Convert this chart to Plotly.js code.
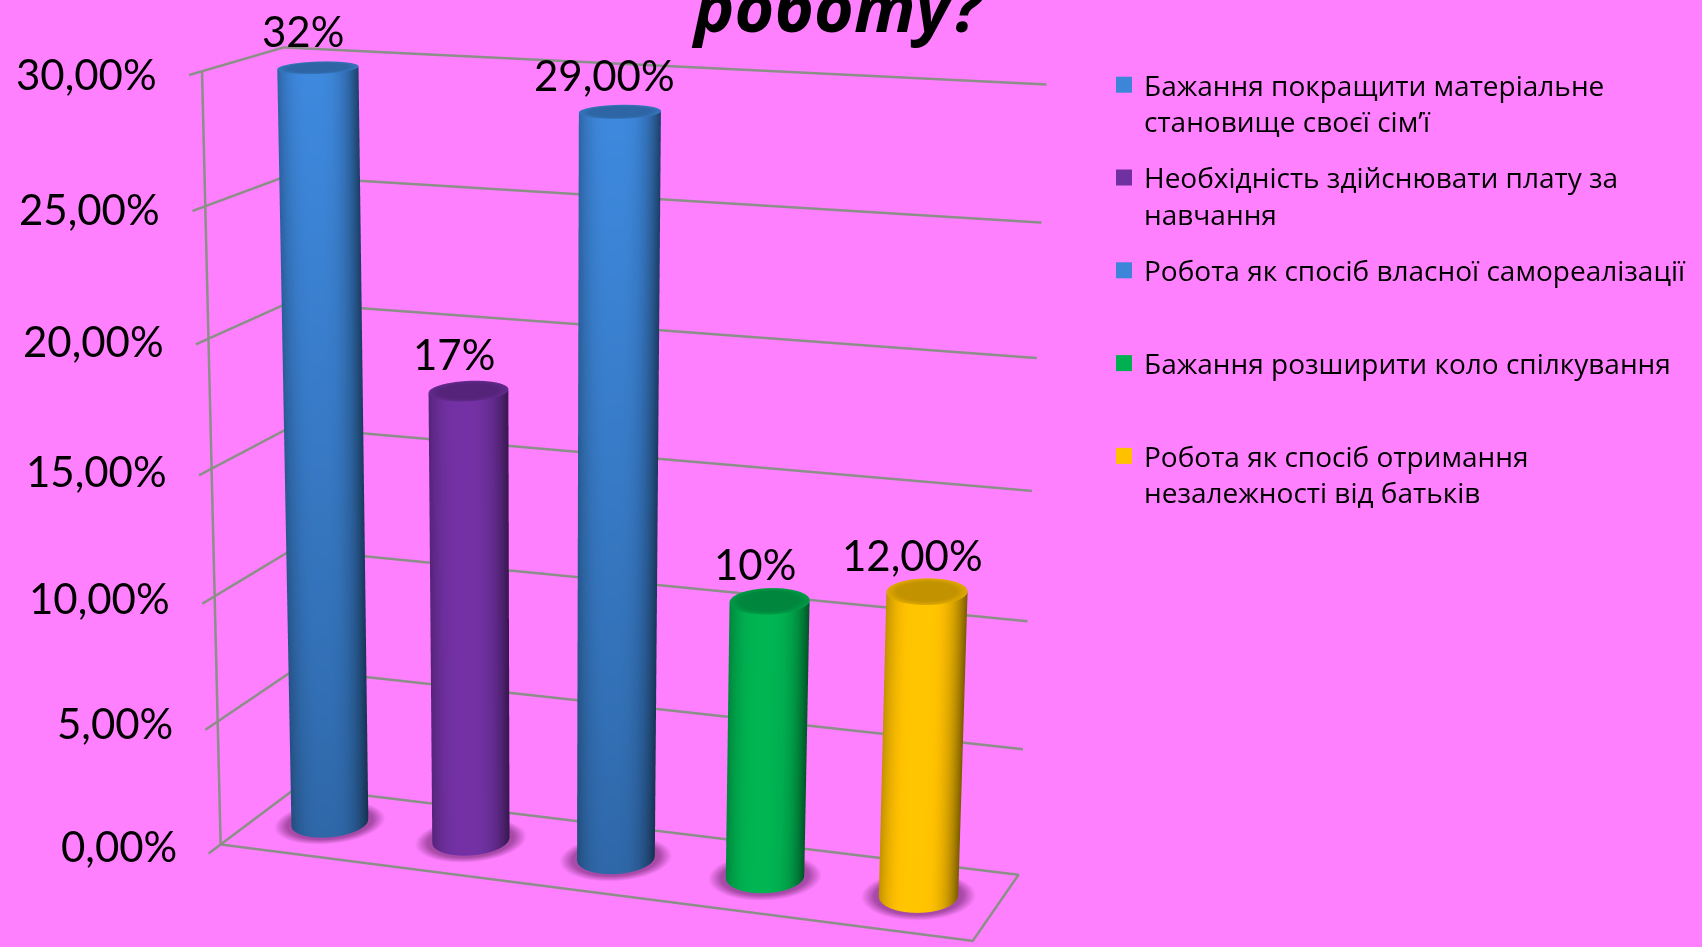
<!DOCTYPE html>
<html><head><meta charset="utf-8"><script src="https://cdn.plot.ly/plotly-3.0.1.min.js"></script>
<style>html,body{margin:0;padding:0;background:#FF80FF;overflow:hidden}#c{width:1702px;height:947px}</style></head>
<body><div id="c"></div>
<script>
const categories=['Бажання покращити матеріальне<br>становище своєї сім’ї','Необхідність здійснювати плату за<br>навчання','Робота як спосіб власної самореалізації<br> ','Бажання розширити коло спілкування<br> ','Робота як спосіб отримання<br>незалежності від батьків'];
const values=[32,17.9,28.75,10.85,11.8];
const valueLabels=['32%','17%','29,00%','10%','12,00%'];
const tickVals=[0,5,10,15,20,25,30];
const tickLabels=['0,00%','5,00%','10,00%','15,00%','20,00%','25,00%','30,00%'];
const barColors=['#3c85d8','#7030a0','#3c85d8','#00b050','#ffc000'];
const gridColor='#8b8f88';
const axisTop=29.8;
const Y0=-0.15;
const eye=[0.82794,-1.49302,1.68048],center=[0.52215,0.74689,-0.11176],up=[-0.01061,0.07128,1];
const aspect=[1.83428,0.18293,1.53306],shear=[0.05419,-0.0544,5.56309];
const U=(x,y,z)=>x+shear[0]*y+shear[1]*z/30,V=(x,y,z)=>y+shear[2]*z/30;
function cross(a,b){return [a[1]*b[2]-a[2]*b[1],a[2]*b[0]-a[0]*b[2],a[0]*b[1]-a[1]*b[0]];}
function unit(a){const n=Math.hypot(...a);return a.map(v=>v/n);}
const fwd=unit(center.map((c,i)=>c-eye[i])),side=unit(cross(fwd,up));
function screenX(x,y,z){const p=[aspect[0]*(U(x,y,z)-.5),aspect[1]*(V(x,y,z)-.5),aspect[2]*(z/30-.5)].map((v,i)=>v-eye[i]);
 return p.reduce((s,v,i)=>s+v*side[i],0)/p.reduce((s,v,i)=>s+v*fwd[i],0);}
const traces=[];
function line3(xs,ys,zs){traces.push({type:'scatter3d',mode:'lines',x:xs.map((v,i)=>U(v,ys[i],zs[i])),y:ys.map((v,i)=>V(xs[i],v,zs[i])),z:zs,line:{color:gridColor,width:5},showlegend:false,hoverinfo:'skip'});}
function hex(c){return [1,3,5].map(i=>parseInt(c.substr(i,2),16));}
function css(a,k){return 'rgb('+a.map(v=>Math.round(Math.min(255,v*k))).join(',')+')';}
const lit={ambient:1,diffuse:0,specular:0,fresnel:0,roughness:1};
tickVals.forEach(z=>line3([0,0,1],[Y0,1,1],[z,z,z]));
line3([0,0],[0,0],[0,30]);
line3([0,1,1,0],[0,0,1,1],[0,0,0,0]);
function addBar(i){
 const N=64,xc=(i+.5)/5,yc=.515,rx=.0485,ry=.25,H=Math.min(values[i],axisTop),col=hex(barColors[i]),isBlue=barColors[i]==='#3c85d8';
 const x=[],y=[],z=[],vc=[],I=[],J=[],K=[];
 const shade=t=>1.03-0.4*Math.pow(Math.abs(t+.12),3);
 const pt=(px,py,pz,c)=>{x.push(U(px,py,pz));y.push(V(px,py,pz));z.push(pz);vc.push(c);};
 for(let r=0;r<2;r++){const h=r?H:0,c0=screenX(xc,yc,h);let w=0;
  for(let k=0;k<N;k++){const th=k/N*2*Math.PI;w=Math.max(w,Math.abs(screenX(xc+rx*Math.cos(th),yc+ry*Math.sin(th),h)-c0));}
  for(let k=0;k<=N;k++){const th=k/N*2*Math.PI,a=xc+rx*Math.cos(th),b=yc+ry*Math.sin(th);
   pt(a,b,h,css(col,(isBlue&&!r?.76:1)*shade((screenX(a,b,h)-c0)/w)));}}
 for(let k=0;k<N;k++){const a=k,b=k+1,c=k+N+1,d=k+N+2;I.push(a,b);J.push(b,d);K.push(c,c);}
 const c0=x.length;pt(xc,yc,H,css(col,.76));
 const capRings=[[.72,.76],[1,.88]];
 capRings.forEach(([m,s])=>{for(let k=0;k<N;k++){const th=k/N*2*Math.PI;pt(xc+rx*m*Math.cos(th),yc+ry*m*Math.sin(th),H,css(col,s));}});
 for(let k=0;k<N;k++){const n=(k+1)%N;I.push(c0,c0+1+k,c0+1+n);J.push(c0+1+k,c0+1+N+k,c0+1+N+k);K.push(c0+1+n,c0+1+n,c0+1+N+n);}
 traces.push({type:'mesh3d',x,y,z,i:I,j:J,k:K,vertexcolor:vc,lighting:lit,flatshading:true,showscale:false,hoverinfo:'skip'});
 const sx=[U(xc,yc,.02)],sy=[V(xc,yc,.02)],sz=[.02],sc=['rgb(150,60,150)'],si=[],sj=[],sk=[];
 [[1.12,'rgb(170,75,170)'],[1.45,'rgb(255,128,255)']].forEach(([m,c])=>{for(let k=0;k<N;k++){const th=k/N*2*Math.PI,a=xc+rx*m*Math.cos(th),b=yc+ry*m*Math.sin(th);sx.push(U(a,b,.02));sy.push(V(a,b,.02));sz.push(.02);sc.push(c);}});
 for(let k=0;k<N;k++){const n=(k+1)%N;si.push(0,1+k,1+n);sj.push(1+k,1+N+k,1+N+k);sk.push(1+n,1+n,1+N+n);}
 traces.push({type:'mesh3d',x:sx,y:sy,z:sz,i:si,j:sj,k:sk,vertexcolor:sc,lighting:lit,showscale:false,hoverinfo:'skip'});
 traces.push({type:'scatter3d',mode:'markers',x:[null],y:[null],z:[null],name:categories[i],legendgroup:'g'+i,marker:{symbol:'square',size:26,color:barColors[i]},showlegend:true});
}
values.forEach((v,i)=>addBar(i));
const fontF='Lato, "Open Sans", sans-serif';
const anns=[];
tickVals.forEach((z,i)=>anns.push({x:U(0,Y0,z),y:V(0,Y0,z),z:z,text:tickLabels[i],showarrow:false,xanchor:'right',yanchor:'middle',xshift:-30,yshift:1+7*(30-z)/30,font:{family:fontF,size:42,color:'#000'}}));
values.forEach((v,i)=>{const h=Math.min(v,axisTop),xc=(i+.5)/5;anns.push({x:U(xc,.515,h),y:V(xc,.515,h),z:h,text:valueLabels[i],showarrow:false,xanchor:'center',yanchor:'bottom',xshift:-15,yshift:10,font:{family:fontF,size:42,color:'#000'}});});
const layout={width:1702,height:947,paper_bgcolor:'#FF80FF',margin:{l:0,r:0,t:0,b:0},
 title:{text:'<b><i>роботу?</i></b>',x:838/1702,xanchor:'center',y:.9915,yanchor:'middle',font:{family:'"Open Sans",sans-serif',size:68,color:'#000'}},
 legend:{x:1104/1702,y:1-60/947,xanchor:'left',yanchor:'top',valign:'top',bgcolor:'rgba(0,0,0,0)',font:{family:'"Open Sans",sans-serif',size:28,color:'#000'},tracegroupgap:17},
 scene:{domain:{x:[0,1],y:[0,1]},bgcolor:'#FF80FF',aspectmode:'manual',aspectratio:{x:aspect[0]*20,y:aspect[1]*20,z:aspect[2]*2},
  camera:{eye:{x:eye[0],y:eye[1],z:eye[2]},center:{x:center[0],y:center[1],z:center[2]},up:{x:up[0],y:up[1],z:up[2]},projection:{type:'perspective'}},
  xaxis:{range:[-9.5,10.5],visible:false},yaxis:{range:[-9.5,10.5],visible:false},zaxis:{range:[-15,45],visible:false},annotations:anns}};
Plotly.newPlot('c',traces,layout,{displayModeBar:false});
</script></body></html>
